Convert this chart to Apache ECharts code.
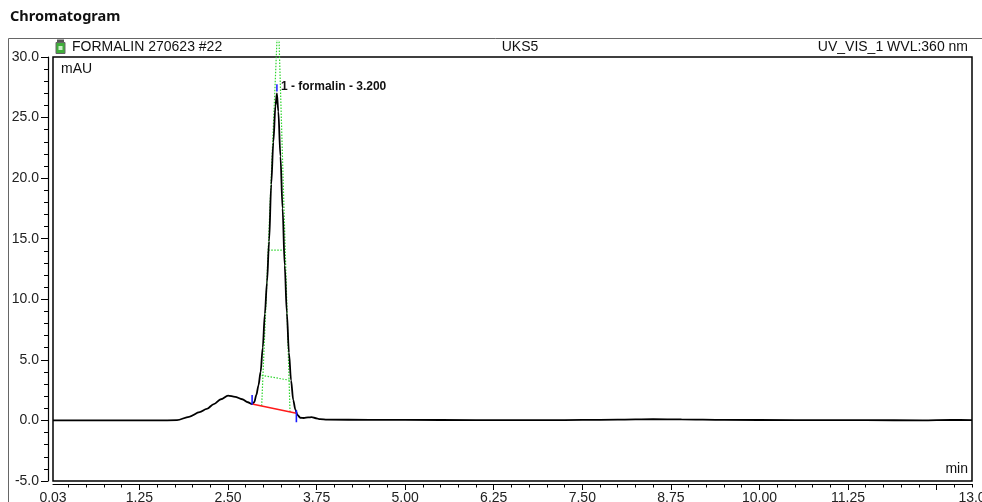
<!DOCTYPE html>
<html>
<head>
<meta charset="utf-8">
<script src="https://cdn.jsdelivr.net/npm/echarts@6/dist/echarts.min.js"></script>
<style>
  html, body { margin: 0; padding: 0; background: #fff; }
  #chart { width: 982px; height: 502px; }
</style>
</head>
<body>
<div id="chart"></div>
<script>
// trace (min, mAU)
const traceTime = [0.03, 0.5, 1.0, 1.5, 1.78, 1.95, 2.1, 2.2, 2.3, 2.4, 2.5, 2.6, 2.7, 2.78, 2.84,
  2.87, 2.9, 2.93, 2.96, 2.99, 3.02, 3.05, 3.08, 3.11, 3.14, 3.17, 3.19, 3.21, 3.24, 3.27, 3.3,
  3.33, 3.36, 3.39, 3.42, 3.45, 3.48, 3.52, 3.57, 3.63, 3.68, 3.74, 3.8, 3.9, 4.5, 5.0, 6.0, 7.0,
  7.5, 8.0, 8.5, 8.9, 9.5, 10.5, 11.5, 12.3, 12.7, 13.0];
const traceSignal = [0.0, 0.0, 0.0, 0.0, 0.02, 0.3, 0.68, 0.95, 1.35, 1.75, 2.05, 1.95, 1.75, 1.5, 1.35,
  1.5, 2.1, 2.9, 4.0, 6.0, 8.8, 11.4, 14.8, 19.5, 23.0, 26.0, 27.0, 25.5, 21.8, 17.5, 12.8,
  8.9, 5.6, 3.3, 1.7, 0.9, 0.45, 0.22, 0.2, 0.25, 0.27, 0.18, 0.1, 0.06, 0.05, 0.04, 0.03, 0.02,
  0.04, 0.06, 0.1, 0.08, 0.04, 0.03, 0.02, 0.01, 0.04, 0.03];

// peak integration marks
const baseTime = [2.84, 3.465];
const baseSignal = [1.35, 0.6];
const widthLeftTime = [2.975, 3.191];
const widthLeftSignal = [1.2, 31.4];
const widthRightTime = [3.375, 3.22];
const widthRightSignal = [0.7, 31.4];
const halfTime = [3.068, 3.294];
const halfSignal = [14.05, 14.05];
const tenthTime = [2.975, 3.375];
const tenthSignal = [3.72, 3.31];
const startMarkTime = [2.84, 2.84];
const startMarkSignal = [2.1, 1.3];
const endMarkTime = [3.465, 3.465];
const endMarkSignal = [0.85, -0.15];
const topMarkTime = [3.19, 3.19];
const topMarkSignal = [27.15, 27.75];
const peakLabel = "1 - formalin - 3.200";

// axis ticks
const xLabelValues = [0.03, 1.25, 2.5, 3.75, 5.0, 6.25, 7.5, 8.75, 10.0, 11.25, 13.0];
const xLabelTexts = ["0.03", "1.25", "2.50", "3.75", "5.00", "6.25", "7.50", "8.75", "10.00", "11.25", "13.0"];
const xMajorTicks = [1.25, 2.5, 3.75, 5.0, 6.25, 7.5, 8.75, 10.0, 11.25, 12.5];
const xMinorTicks = [];
for (let k = 1; k <= 52; k++) xMinorTicks.push(k * 0.25);

const zip = (a, b) => a.map((v, i) => [v, b[i]]);
const font = '"Liberation Sans", Arial, sans-serif';

const chart = echarts.init(document.getElementById("chart"));

const markLine = (t, s, color, type, clip) => ({
  type: "line",
  data: zip(t, s),
  symbol: "none",
  silent: true,
  clip: clip !== false,
  lineStyle: type === "dotted"
    ? { color: color, width: 1.2, type: [1.5, 1.5] }
    : { color: color, width: 1.6, type: "solid" },
  z: type === "dotted" ? 1 : 3,
});

chart.setOption({
  animation: false,
  grid: {
    left: 53, right: 10, top: 57, bottom: 21,
    containLabel: false, outerBoundsMode: "none",
    show: true, borderColor: "#000", borderWidth: 1.5,
  },
  xAxis: [
    {
      type: "value", min: 0.03, max: 13.0, offset: 3,
      axisLine: { show: true, onZero: false, lineStyle: { color: "#000", width: 1.2 } },
      axisTick: { show: true, customValues: xMajorTicks, length: 6, lineStyle: { color: "#000" } },
      axisLabel: {
        customValues: xLabelValues, color: "#222", fontFamily: font, fontSize: 14, margin: 7,
        formatter: (v) => xLabelTexts[xLabelValues.findIndex((x) => Math.abs(x - v) < 1e-6)],
      },
      splitLine: { show: false },
    },
    {
      type: "value", min: 0.03, max: 13.0, offset: 3, position: "bottom",
      axisLine: { show: false, onZero: false },
      axisTick: { show: true, customValues: xMinorTicks, length: 3.5, lineStyle: { color: "#000" } },
      axisLabel: { show: false },
      splitLine: { show: false },
    },
  ],
  yAxis: {
    type: "value", min: -5, max: 30, interval: 5, offset: 5,
    axisLine: { show: true, onZero: false, lineStyle: { color: "#000", width: 1.2 } },
    axisTick: { show: true, length: 7, lineStyle: { color: "#000" } },
    minorTick: { show: true, splitNumber: 5, length: 4, lineStyle: { color: "#000" } },
    axisLabel: { color: "#222", fontFamily: font, fontSize: 14, margin: 9, formatter: (v) => v.toFixed(1) },
    splitLine: { show: false },
  },
  graphic: [
    { type: "text", left: 10, top: 9, style: { text: "Chromatogram", font: 'bold 14.5px "Noto Sans", sans-serif', fill: "#111" } },
    { type: "rect", shape: { x: 8.5, y: 38.5, width: 990, height: 480 }, style: { fill: "none", stroke: "#666", lineWidth: 1 }, silent: true },
    { type: "rect", shape: { x: 57, y: 39.5, width: 7, height: 3 }, style: { fill: "#555" } },
    { type: "rect", shape: { x: 56, y: 42.5, width: 9, height: 11 }, style: { fill: "#3fae3a", stroke: "#666", lineWidth: 1 } },
    { type: "rect", shape: { x: 58.5, y: 46, width: 4, height: 4 }, style: { fill: "#cfeecb" } },
    { type: "text", x: 72, y: 47, style: { text: "FORMALIN 270623 #22", font: "14px " + font, fill: "#111", textVerticalAlign: "middle" } },
    { type: "text", x: 520, y: 47, style: { text: "UKS5", font: "14px " + font, fill: "#111", textAlign: "center", textVerticalAlign: "middle" } },
    { type: "text", x: 968, y: 47, style: { text: "UV_VIS_1 WVL:360 nm", font: "14px " + font, fill: "#111", textAlign: "right", textVerticalAlign: "middle" } },
    { type: "text", x: 61, y: 69, style: { text: "mAU", font: "14px " + font, fill: "#111", textVerticalAlign: "middle" } },
    { type: "text", x: 968, y: 469, style: { text: "min", font: "14px " + font, fill: "#111", textAlign: "right", textVerticalAlign: "middle" } },
  ],
  series: [
    markLine(widthLeftTime, widthLeftSignal, "#2ed52e", "dotted", false),
    markLine(widthRightTime, widthRightSignal, "#2ed52e", "dotted", false),
    markLine(halfTime, halfSignal, "#2ed52e", "dotted"),
    markLine(tenthTime, tenthSignal, "#2ed52e", "dotted"),
    {
      type: "line",
      data: zip(traceTime, traceSignal),
      symbol: "none",
      smooth: 0.3,
      smoothMonotone: "x",
      lineStyle: { color: "#000", width: 1.8 },
      z: 2,
    },
    markLine(baseTime, baseSignal, "#ff1a1a"),
    markLine(startMarkTime, startMarkSignal, "#1a1aff"),
    markLine(endMarkTime, endMarkSignal, "#1a1aff"),
    {
      type: "line",
      data: zip(topMarkTime, topMarkSignal),
      symbol: "none",
      lineStyle: { color: "#1a1aff", width: 1.5 },
      endLabel: {
        show: true, formatter: peakLabel, color: "#111",
        fontFamily: font, fontWeight: "bold", fontSize: 12, distance: 4, offset: [0, 2],
      },
      z: 3,
    },
  ],
});
</script>
</body>
</html>
